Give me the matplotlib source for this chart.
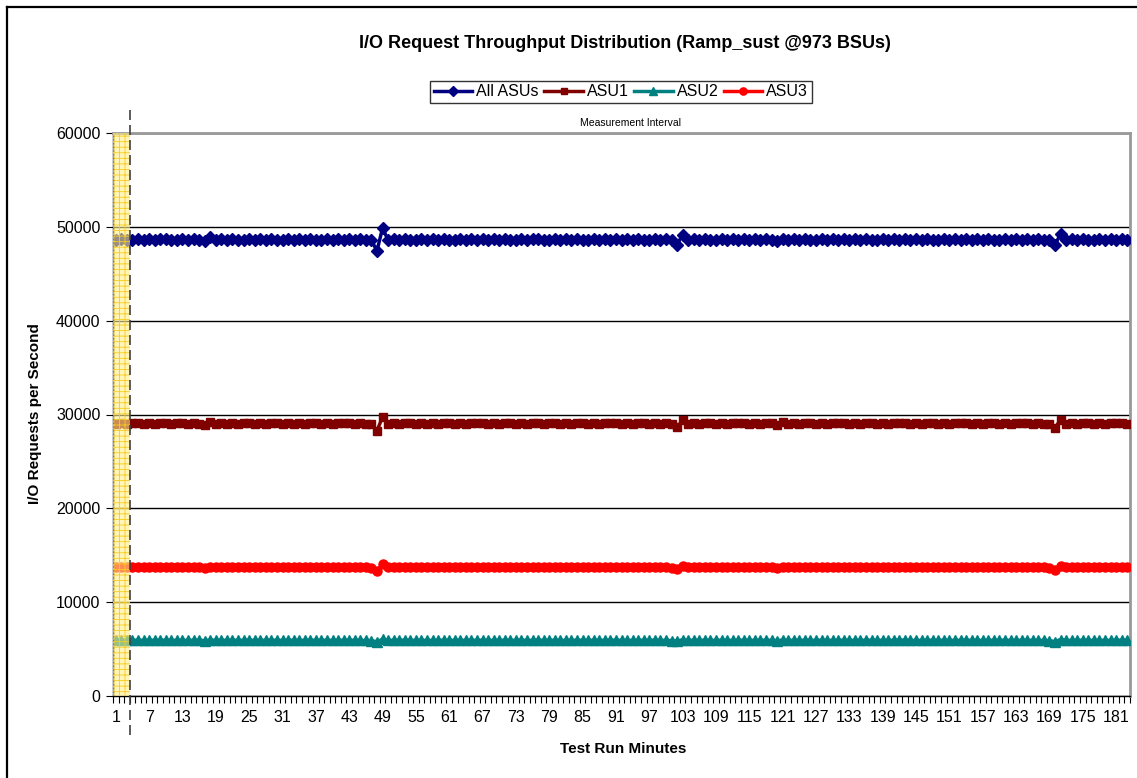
import numpy as np
import matplotlib
matplotlib.use("Agg")
import matplotlib.pyplot as plt
from matplotlib.lines import Line2D

plt.rcParams['font.family'] = ['Liberation Sans', 'DejaVu Sans']
plt.rcParams['hatch.linewidth'] = 0.6

# minutes 1..183, first 3 minutes are ramp-up
all_asus = [
    48610, 48660, 48630, 48650, 48680, 48640, 48670, 48620, 48660, 48690, 48640, 48650, 48670, 48630, 48660,
    48640, 48450, 48880, 48610, 48660, 48640, 48680, 48630, 48650, 48670, 48620, 48660, 48640, 48690, 48650,
    48630, 48670, 48640, 48660, 48620, 48680, 48650, 48640, 48670, 48630, 48660, 48650, 48680, 48640, 48660,
    48630, 48550, 47450, 49850, 48600, 48660, 48640, 48680, 48650, 48630, 48670, 48640, 48660, 48620, 48680,
    48650, 48640, 48670, 48630, 48660, 48650, 48690, 48620, 48660, 48640, 48670, 48650, 48630, 48680, 48640,
    48660, 48700, 48630, 48650, 48670, 48640, 48660, 48620, 48680, 48650, 48640, 48670, 48630, 48660, 48650,
    48680, 48640, 48660, 48630, 48670, 48650, 48640, 48680, 48620, 48660, 48550, 48100, 49150, 48620, 48660,
    48640, 48670, 48650, 48630, 48680, 48640, 48660, 48650, 48670, 48630, 48660, 48640, 48680, 48650, 48450,
    48750, 48640, 48660, 48630, 48670, 48650, 48640, 48680, 48620, 48660, 48650, 48670, 48640, 48660, 48630,
    48680, 48650, 48640, 48670, 48630, 48660, 48650, 48690, 48640, 48660, 48620, 48680, 48650, 48640, 48670,
    48630, 48660, 48650, 48680, 48640, 48660, 48630, 48670, 48650, 48640, 48680, 48620, 48660, 48650, 48670,
    48640, 48660, 48630, 48550, 48050, 49250, 48620, 48660, 48640, 48680, 48650, 48630, 48670, 48640, 48660,
    48650, 48680, 48640,
]
asu1 = [
    29020, 29060, 29040, 29050, 29080, 29030, 29070, 29040, 29060, 29090, 29030, 29050, 29070, 29040, 29060,
    29040, 28850, 29250, 29020, 29060, 29040, 29080, 29030, 29050, 29070, 29020, 29060, 29040, 29090, 29050,
    29030, 29070, 29040, 29060, 29020, 29080, 29050, 29040, 29070, 29030, 29060, 29050, 29080, 29040, 29060,
    29030, 28950, 28250, 29750, 29000, 29060, 29040, 29080, 29050, 29030, 29070, 29040, 29060, 29020, 29080,
    29050, 29040, 29070, 29030, 29060, 29050, 29090, 29020, 29060, 29040, 29070, 29050, 29030, 29080, 29040,
    29060, 29100, 29030, 29050, 29070, 29040, 29060, 29020, 29080, 29050, 29040, 29070, 29030, 29060, 29050,
    29080, 29040, 29060, 29030, 29070, 29050, 29040, 29080, 29020, 29060, 28950, 28650, 29400, 29020, 29060,
    29040, 29070, 29050, 29030, 29080, 29040, 29060, 29050, 29070, 29030, 29060, 29040, 29080, 29050, 28900,
    29200, 29040, 29060, 29030, 29070, 29050, 29040, 29080, 29020, 29060, 29050, 29070, 29040, 29060, 29030,
    29080, 29050, 29040, 29070, 29030, 29060, 29050, 29090, 29040, 29060, 29020, 29080, 29050, 29040, 29070,
    29030, 29060, 29050, 29080, 29040, 29060, 29030, 29070, 29050, 29040, 29080, 29020, 29060, 29050, 29070,
    29040, 29060, 29030, 28950, 28550, 29450, 29020, 29060, 29040, 29080, 29050, 29030, 29070, 29040, 29060,
    29050, 29080, 29040,
]
asu2 = [
    5920, 5940, 5930, 5930, 5950, 5920, 5940, 5930, 5930, 5950, 5920, 5930, 5940, 5920, 5940,
    5930, 5900, 5970, 5920, 5940, 5930, 5950, 5920, 5930, 5940, 5920, 5940, 5930, 5950, 5930,
    5920, 5940, 5930, 5930, 5920, 5950, 5930, 5920, 5940, 5920, 5940, 5930, 5950, 5920, 5930,
    5920, 5900, 5780, 6050, 5920, 5940, 5930, 5950, 5930, 5920, 5940, 5920, 5930, 5920, 5950,
    5930, 5920, 5940, 5920, 5940, 5930, 5950, 5920, 5930, 5920, 5940, 5930, 5920, 5950, 5920,
    5930, 5960, 5920, 5930, 5940, 5920, 5930, 5920, 5950, 5930, 5920, 5940, 5920, 5930, 5930,
    5950, 5920, 5930, 5920, 5940, 5930, 5920, 5950, 5920, 5930, 5910, 5850, 6000, 5920, 5940,
    5920, 5940, 5930, 5920, 5950, 5920, 5930, 5930, 5940, 5920, 5930, 5920, 5950, 5930, 5900,
    5970, 5920, 5930, 5920, 5940, 5930, 5920, 5950, 5920, 5930, 5930, 5940, 5920, 5930, 5920,
    5950, 5930, 5920, 5940, 5920, 5930, 5930, 5960, 5920, 5930, 5920, 5950, 5930, 5920, 5940,
    5920, 5930, 5930, 5950, 5920, 5930, 5920, 5940, 5930, 5920, 5950, 5920, 5930, 5930, 5940,
    5920, 5930, 5920, 5900, 5800, 6020, 5920, 5930, 5920, 5950, 5930, 5920, 5940, 5920, 5930,
    5930, 5950, 5920,
]
asu3 = [
    13700, 13730, 13710, 13720, 13740, 13700, 13730, 13710, 13720, 13750, 13710, 13720, 13740, 13700, 13730,
    13710, 13650, 13780, 13700, 13730, 13710, 13740, 13700, 13720, 13730, 13700, 13730, 13710, 13750, 13720,
    13700, 13730, 13710, 13720, 13700, 13740, 13720, 13710, 13730, 13700, 13730, 13720, 13740, 13710, 13720,
    13700, 13650, 13350, 14100, 13700, 13730, 13710, 13740, 13720, 13700, 13730, 13710, 13720, 13700, 13740,
    13720, 13710, 13730, 13700, 13730, 13720, 13750, 13700, 13720, 13710, 13730, 13720, 13700, 13740, 13710,
    13720, 13760, 13700, 13720, 13730, 13710, 13720, 13700, 13740, 13720, 13710, 13730, 13700, 13720, 13720,
    13740, 13710, 13720, 13700, 13730, 13720, 13710, 13740, 13700, 13720, 13680, 13550, 13850, 13700, 13730,
    13710, 13730, 13720, 13700, 13740, 13710, 13720, 13720, 13730, 13700, 13720, 13710, 13740, 13720, 13660,
    13780, 13710, 13720, 13700, 13730, 13720, 13710, 13740, 13700, 13720, 13720, 13730, 13710, 13720, 13700,
    13740, 13720, 13710, 13730, 13700, 13720, 13720, 13750, 13710, 13720, 13700, 13740, 13720, 13710, 13730,
    13700, 13720, 13720, 13740, 13710, 13720, 13700, 13730, 13720, 13710, 13740, 13700, 13720, 13720, 13730,
    13710, 13720, 13700, 13650, 13450, 13900, 13700, 13720, 13710, 13740, 13720, 13700, 13730, 13710, 13720,
    13720, 13740, 13710,
]
ramp_minutes = 3

minutes = np.arange(1, len(all_asus) + 1)
series = [
    ("All ASUs", all_asus, "#000080", "D", 6),
    ("ASU1", asu1, "#800000", "s", 6),
    ("ASU2", asu2, "#008080", "^", 6.5),
    ("ASU3", asu3, "#FF0000", "o", 6.5),
]

fig = plt.figure(figsize=(11.37, 7.78), dpi=100)
ax = fig.add_axes((113 / 1137, 82 / 778, 1017 / 1137, 563 / 778))

handles = []
for name, vals, col, mk, ms in series:
    h, = ax.plot(minutes, vals, color=col, marker=mk, markersize=ms, lw=2.5,
                 markeredgecolor=col, zorder=3, label=name)
    handles.append(h)

# ramp-up band
ax.axvspan(0.5, ramp_minutes + 0.5, facecolor=(1.0, 0.93, 0.55, 0.6),
           edgecolor="#F5CC20", hatch="+++", lw=0, zorder=4)
ax.axvline(0.5, color="#8a7a40", lw=1, ls=":", zorder=5)
ax.axvline(ramp_minutes + 0.5, ymin=-0.07, ymax=1.05, color="#404040", lw=1.2,
           ls=(0, (6, 3)), clip_on=False, zorder=5)

ax.set_xlim(0.5, len(minutes) + 0.5)
ax.set_ylim(0, 60000)
ax.set_yticks(np.arange(0, 60001, 10000))
ax.yaxis.grid(True, color="black", lw=1)
ax.set_axisbelow(True)

ax.set_xticks(np.arange(1, len(minutes) + 1, 6))
ax.set_xticks(np.arange(0.5, len(minutes) + 1, 1), minor=True)
ax.tick_params(axis="x", which="major", length=0, pad=10, labelsize=11.5)
ax.tick_params(axis="x", which="minor", length=5, width=0.8, direction="out")
ax.tick_params(axis="y", length=5, width=0.8, labelsize=11.5, pad=4)

for s in ("top", "right"):
    ax.spines[s].set_color("#999999")
    ax.spines[s].set_linewidth(2)
ax.spines["left"].set_linewidth(1)
ax.spines["bottom"].set_linewidth(1)

fig.text(625 / 1137, 1 - 43 / 778, "I/O Request Throughput Distribution (Ramp_sust @973 BSUs)",
         ha="center", va="center", fontsize=13, fontweight="bold")
fig.text(630 / 1137, 1 - 123 / 778, "Measurement Interval", ha="center", va="center", fontsize=7.5)
fig.text(35 / 1137, 1 - 414 / 778, "I/O Requests per Second", ha="center", va="center",
         rotation=90, fontsize=11, fontweight="bold")
fig.text(623 / 1137, 1 - 749 / 778, "Test Run Minutes", ha="center", va="center",
         fontsize=11, fontweight="bold")

leg = fig.legend(handles=handles, loc="center", bbox_to_anchor=(621 / 1137, 1 - 92 / 778),
                 ncol=4, frameon=True, fancybox=False, edgecolor="black", fontsize=11.5,
                 handlelength=2.4, handletextpad=0.25, columnspacing=0.35, borderpad=0.25,
                 borderaxespad=0, markerscale=0.8)
leg.get_frame().set_linewidth(1)

# outer chart border (top and left visible)
fig.add_artist(Line2D([7 / 1137, 1], [1 - 7 / 778, 1 - 7 / 778], color="black", lw=1.6,
                      transform=fig.transFigure))
fig.add_artist(Line2D([7 / 1137, 7 / 1137], [0, 1 - 7 / 778], color="black", lw=1.6,
                      transform=fig.transFigure))

fig.savefig("out.png", dpi=100)
